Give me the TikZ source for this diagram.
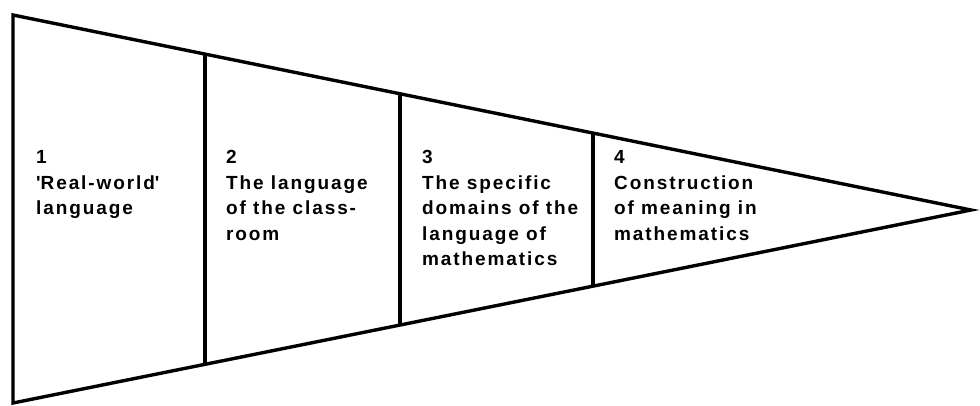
\documentclass[tikz,border=0pt]{standalone}
\usepackage{fontspec}
\setmainfont[LetterSpace=10]{Liberation Sans}
\usetikzlibrary{calc}
\begin{document}
\begin{tikzpicture}[x=1pt,y=-1pt,
  edge/.style={draw=black,line width=3.4pt},
  lbl/.style={anchor=north west,inner sep=0pt,align=left,
    font=\fontsize{19}{25.5}\selectfont\bfseries}]
\useasboundingbox (0,0) rectangle (980,405);
\coordinate (TL) at (13,15);
\coordinate (BL) at (13,403);
\coordinate (tip) at (971,210);
\draw[edge] (TL) -- (tip) -- (BL) -- cycle;
\foreach \t/\n in {0.2004/a,0.4040/b,0.6054/c}{
  \coordinate (t\n) at ($(TL)!\t!(tip)$);
  \coordinate (b\n) at ($(BL)!\t!(tip)$);
  \draw[edge] (t\n) -- (b\n);
}
\node[lbl] (c1) at (36,150.5) {1\\\textquotesingle Real-world\textquotesingle\\language};
\node[lbl] (c2) at (226,150.5) {2\\The language\\of the class-\\room};
\node[lbl] (c3) at (422,150.5) {3\\The specific\\domains of the\\language of\\mathematics};
\node[lbl] (c4) at (614,150.5) {4\\Construction\\of meaning in\\mathematics};
\end{tikzpicture}
\end{document}
